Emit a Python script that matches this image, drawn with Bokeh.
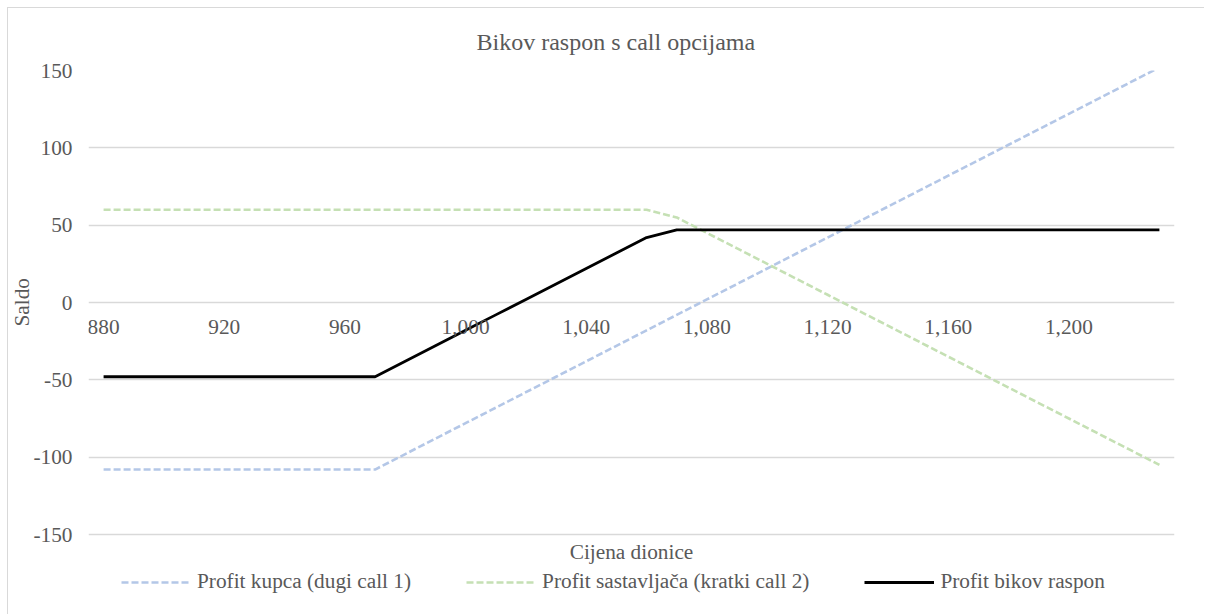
from bokeh.plotting import figure
from bokeh.models import (Range1d, FixedTicker, NumeralTickFormatter, Legend, LegendItem, Title, Label)
from bokeh.embed import file_html
from bokeh.resources import INLINE

# ---- data ----
price = [880, 890, 900, 910, 920, 930, 940, 950, 960, 970,
         980, 990, 1000, 1010, 1020, 1030, 1040, 1050, 1060, 1070,
         1080, 1090, 1100, 1110, 1120, 1130, 1140, 1150, 1160, 1170,
         1180, 1190, 1200, 1210, 1220, 1230]
long_call = [-108, -108, -108, -108, -108, -108, -108, -108, -108, -108,
             -98, -88, -78, -68, -58, -48, -38, -28, -18, -8,
             2, 12, 22, 32, 42, 52, 62, 72, 82, 92,
             102, 112, 122, 132, 142, 152]
short_call = [60, 60, 60, 60, 60, 60, 60, 60, 60, 60,
              60, 60, 60, 60, 60, 60, 60, 60, 60, 55,
              45, 35, 25, 15, 5, -5, -15, -25, -35, -45,
              -55, -65, -75, -85, -95, -105]
bull_spread = [-48, -48, -48, -48, -48, -48, -48, -48, -48, -48,
               -38, -28, -18, -8, 2, 12, 22, 32, 42, 47,
               47, 47, 47, 47, 47, 47, 47, 47, 47, 47,
               47, 47, 47, 47, 47, 47]
x_ticks = [880, 920, 960, 1000, 1040, 1080, 1120, 1160, 1200]
y_ticks = [-150, -100, -50, 0, 50, 100, 150]
series_names = ["Profit kupca (dugi call 1)",
                "Profit sastavljača (kratki call 2)",
                "Profit bikov raspon"]

FONT = "Liberation Serif"
TXT = "#595959"
GRID = "#D9D9D9"
FS = "21.3px"

# layout (px)
W, H = 1197, 607
B_LEFT, B_RIGHT, B_TOP, B_BOTTOM = 80, 31, 62, 5
GRID_SPAN_PX = 464.0          # distance between the 150 and -150 gridlines
frame_h = H - B_TOP - B_BOTTOM
px_per_unit = GRID_SPAN_PX / (y_ticks[-1] - y_ticks[0])
y_top = y_ticks[-1]
y_bottom = y_top - frame_h / px_per_unit   # extra room below -150 for legend

p = figure(width=W, height=H, output_backend="svg", toolbar_location=None,
           x_range=Range1d(875, 1235), y_range=Range1d(y_bottom, y_top),
           min_border_left=B_LEFT, min_border_right=B_RIGHT,
           min_border_top=B_TOP, min_border_bottom=B_BOTTOM)
p.styles = {"border-left": "1px solid #D9D9D9", "border-top": "1px solid #D9D9D9",
            "margin-left": "7px", "margin-top": "7px"}
p.outline_line_color = None
p.background_fill_color = "white"

p.title = Title(text="Bikov raspon s call opcijama", align="left", offset=388,
                text_font=FONT, text_font_size="24px", text_font_style="normal",
                text_color=TXT, standoff=31)

# x axis crossing at 0
xa = p.xaxis[0]
xa.fixed_location = 0
xa.ticker = FixedTicker(ticks=x_ticks)
xa.formatter = NumeralTickFormatter(format="0,0")
xa.axis_line_color = None
xa.major_tick_line_color = None
xa.minor_tick_line_color = None
xa.major_tick_out = 0
xa.major_tick_in = 0
xa.major_label_standoff = 17
xa.major_label_text_font = FONT
xa.major_label_text_font_size = FS
xa.major_label_text_color = TXT

ya = p.yaxis[0]
ya.ticker = FixedTicker(ticks=y_ticks)
ya.formatter = NumeralTickFormatter(format="0")
ya.axis_line_color = None
ya.major_tick_line_color = None
ya.minor_tick_line_color = None
ya.major_tick_out = 0
ya.major_tick_in = 0
ya.major_label_standoff = 16
ya.major_label_text_font = FONT
ya.major_label_text_font_size = FS
ya.major_label_text_color = TXT

# y axis title, centred on the gridline span
p.add_layout(Title(text="Saldo", align="left", offset=284, text_font=FONT,
                   text_font_size=FS, text_font_style="normal", text_color=TXT,
                   standoff=-7), "left")

p.xgrid.grid_line_color = None
p.ygrid.ticker = FixedTicker(ticks=y_ticks)
p.ygrid.grid_line_color = GRID
p.ygrid.grid_line_width = 1.3

r1 = p.line(price, long_call, line_color="#B4C7E7", line_width=2.6, line_dash="7 3")
r2 = p.line(price, short_call, line_color="#C5E0B4", line_width=2.6, line_dash="7 3")
r3 = p.line(price, bull_spread, line_color="black", line_width=2.8)

# x axis title (below the plotted area)
p.add_layout(Label(x=(875 + 1235) / 2, y=y_ticks[0], y_offset=-17, text="Cijena dionice",
                   text_align="center", text_baseline="middle", text_font=FONT,
                   text_font_size=FS, text_color=TXT))

legend = Legend(items=[LegendItem(label=series_names[0], renderers=[r1]),
                       LegendItem(label=series_names[1], renderers=[r2]),
                       LegendItem(label=series_names[2], renderers=[r3])],
                orientation="horizontal", location=(33, 16),
                glyph_width=70, glyph_height=20, label_standoff=6, spacing=55,
                padding=0, margin=0, border_line_color=None, background_fill_alpha=0,
                label_text_font=FONT, label_text_font_size=FS, label_text_color=TXT)
p.add_layout(legend, "center")

open("out.html", "w").write(file_html(p, INLINE))
